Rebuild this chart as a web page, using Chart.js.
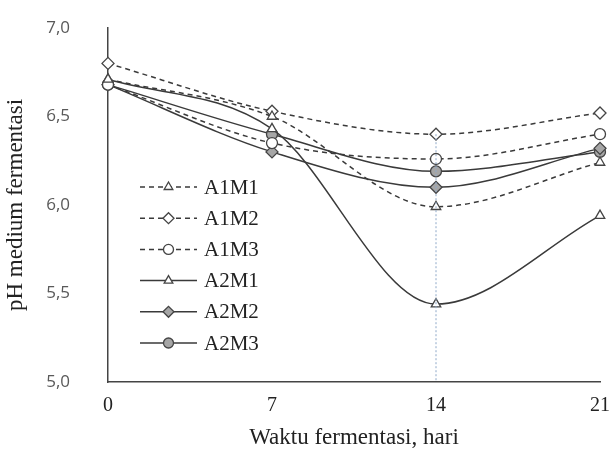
<!DOCTYPE html>
<html lang="id">
<head>
    <meta charset="UTF-8">
    <title>pH medium fermentasi</title>
    <script src="https://cdn.jsdelivr.net/npm/chart.js"></script>
    <style>
        html, body { margin: 0; padding: 0; background: #fff; }
        .container { width: 615px; height: 458px; position: relative; }
    </style>
</head>
<body>
    <div class="container">
        <canvas id="phChart"></canvas>
    </div>

    <script>
        // hari fermentasi
        const days = [0, 7, 14, 21];

        // nilai pH tiap perlakuan
        const a1m1 = [6.71, 6.50, 5.99, 6.24];
        const a1m2 = [6.80, 6.53, 6.40, 6.52];
        const a1m3 = [6.68, 6.35, 6.26, 6.40];
        const a2m1 = [6.71, 6.43, 5.44, 5.94];
        const a2m2 = [6.68, 6.30, 6.10, 6.32];
        const a2m3 = [6.68, 6.40, 6.19, 6.30];

        // garis vertikal titik-titik di hari ke-14
        const refX = [14, 14];
        const refY = [6.40, 5.0];

        const yTicks = [5.0, 5.5, 6.0, 6.5, 7.0];
        const xTicks = [0, 7, 14, 21];

        function pts(ys) {
            return days.map((d, i) => ({ x: d, y: ys[i] }));
        }

        const LINE = '#3a3a3a';
        const FILL_A2 = '#a6a6a6';
        const SERIF = '"Liberation Serif", "Times New Roman", serif';

        function series(label, ys, style, dashed, filled) {
            return {
                label: label,
                data: pts(ys),
                borderColor: LINE,
                borderWidth: 1.5,
                borderDash: dashed ? [5, 4] : [],
                cubicInterpolationMode: 'monotone',
                pointStyle: style,
                pointRadius: style === 'rectRot' ? 6 : 5.5,
                pointBackgroundColor: filled ? FILL_A2 : '#ffffff',
                pointBorderColor: '#444',
                pointBorderWidth: 1.3,
                clip: false
            };
        }

        const datasets = [
            {
                label: 'ref',
                data: refX.map((x, i) => ({ x: x, y: refY[i] })),
                borderColor: '#8fa9c9',
                borderWidth: 1,
                borderDash: [2, 2],
                pointRadius: 0,
                tension: 0
            },
            series('A1M1', a1m1, 'triangle', true, false),
            series('A1M2', a1m2, 'rectRot', true, false),
            series('A1M3', a1m3, 'circle', true, false),
            series('A2M1', a2m1, 'triangle', false, false),
            series('A2M2', a2m2, 'rectRot', false, true),
            series('A2M3', a2m3, 'circle', false, true)
        ];

        // legenda manual: garis + penanda, di dalam area plot
        const legendPlugin = {
            id: 'lineLegend',
            afterDraw(chart) {
                const ctx = chart.ctx;
                const x0 = 140, x1 = 197, top = 187, step = 31.2;
                let row = 0;
                chart.data.datasets.forEach(ds => {
                    if (ds.label === 'ref') return;
                    const y = top + row * step;
                    ctx.save();
                    ctx.strokeStyle = ds.borderColor;
                    ctx.lineWidth = ds.borderWidth;
                    ctx.setLineDash(ds.borderDash);
                    ctx.beginPath();
                    ctx.moveTo(x0, y);
                    ctx.lineTo(x1, y);
                    ctx.stroke();
                    ctx.setLineDash([]);
                    ctx.fillStyle = ds.pointBackgroundColor;
                    ctx.strokeStyle = ds.pointBorderColor;
                    ctx.lineWidth = ds.pointBorderWidth;
                    Chart.helpers.drawPoint(ctx, {
                        pointStyle: ds.pointStyle,
                        radius: ds.pointRadius - 0.5,
                        borderWidth: ds.pointBorderWidth
                    }, (x0 + x1) / 2, y);
                    ctx.fillStyle = '#222';
                    ctx.font = '21px ' + SERIF;
                    ctx.textBaseline = 'middle';
                    ctx.fillText(ds.label, 204, y + 1);
                    ctx.restore();
                    row++;
                });
            }
        };

        new Chart(document.getElementById('phChart').getContext('2d'), {
            type: 'line',
            data: { datasets: datasets },
            options: {
                responsive: true,
                maintainAspectRatio: false,
                animation: false,
                layout: { padding: { top: 28, right: 15, left: 0, bottom: 0 } },
                plugins: {
                    legend: { display: false },
                    tooltip: { enabled: false }
                },
                scales: {
                    x: {
                        type: 'linear',
                        min: 0,
                        max: 21,
                        afterBuildTicks: s => { s.ticks = xTicks.map(v => ({ value: v })); },
                        afterFit: s => { s.height = 76; s.paddingLeft = 0; s.paddingRight = 0; },
                        grid: { display: false, drawTicks: false },
                        border: { color: '#444', width: 1.5 },
                        ticks: {
                            color: '#222',
                            padding: 12,
                            font: { family: SERIF, size: 20 }
                        },
                        title: {
                            display: true,
                            text: 'Waktu fermentasi, hari',
                            color: '#222',
                            padding: { top: 0, bottom: 6 },
                            font: { family: SERIF, size: 23 }
                        }
                    },
                    y: {
                        min: 5,
                        max: 7,
                        afterBuildTicks: s => { s.ticks = yTicks.map(v => ({ value: v })); },
                        afterFit: s => { s.width = 108; s.paddingTop = 0; s.paddingBottom = 0; },
                        grid: { display: false, drawTicks: false },
                        border: { color: '#444', width: 1.5 },
                        ticks: {
                            color: '#595959',
                            padding: 38,
                            font: { family: '"Open Sans", sans-serif', size: 17 },
                            callback: v => v.toFixed(1).replace('.', ',')
                        },
                        title: {
                            display: true,
                            text: 'pH medium fermentasi',
                            color: '#222',
                            padding: { top: 2, bottom: 0 },
                            font: { family: SERIF, size: 23 }
                        }
                    }
                }
            },
            plugins: [legendPlugin]
        });
    </script>
</body>
</html>
